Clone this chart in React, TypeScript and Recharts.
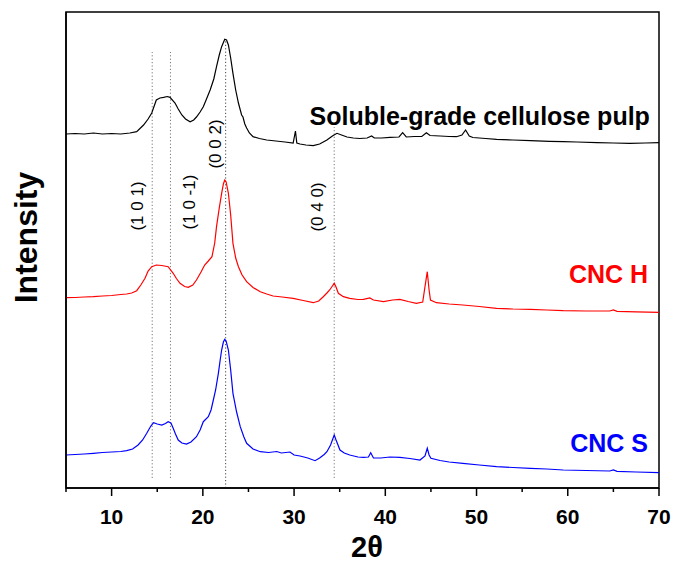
import React from "react";
import { LineChart, Line, XAxis, YAxis, ReferenceLine, ReferenceArea, ReferenceDot } from "recharts";

// 2θ positions and intensity (arbitrary units, offset stacked as in the figure)
const pulpX = [5, 6, 7, 8, 9, 10, 11, 12, 12.75, 13.5, 14.0, 14.4, 14.9, 15.3, 15.7, 16.1, 16.4, 16.95, 17.3, 17.7, 18.1, 18.6, 19.0, 19.3, 19.7, 20.05, 20.4, 20.8, 21.2, 21.5, 21.8, 22.06, 22.4, 22.6, 22.8, 23.05, 23.3, 23.6, 23.9, 24.25, 24.4, 24.6, 24.8, 25.1, 25.5, 26.2, 27, 28, 29, 29.9, 30.15, 30.3, 30.65, 31.3, 32.1, 32.8, 33.6, 34.2, 34.7, 35.2, 35.8, 36.5, 37.2, 38.0, 38.5, 38.8, 39.6, 40.5, 41.5, 41.9, 42.3, 43.2, 44.0, 44.5, 44.9, 46, 47, 47.8, 48.4, 48.8, 49.2, 49.6, 51, 52.2, 54, 55.9, 58, 59.5, 61, 63.2, 65, 66.8, 68.5, 70];
const pulpY = [354, 354.5, 354, 355, 354, 354.5, 354, 355, 356.3, 363, 369, 375, 388, 390, 390.7, 391.5, 390.7, 385, 379, 373, 369, 366.3, 368, 371, 376, 381.3, 389, 398, 409, 421.3, 433, 441.3, 448.7, 448, 443, 430, 414.7, 398, 385, 373, 371, 364, 360, 355, 351.3, 349.5, 348, 347, 346, 345, 357, 345, 344, 343, 342.3, 344, 348, 352, 354.7, 353, 351, 350, 349.5, 350, 352, 350, 350, 350.7, 351, 355.3, 351, 351.5, 351.5, 355.3, 352.5, 352, 351.5, 351.3, 353, 358, 352, 350.5, 349.5, 348.7, 348, 347.3, 346.7, 346.3, 346, 345.3, 345, 344.7, 345, 345.3];

const cncHX = [5, 6, 7, 8, 9, 10, 11, 11.65, 12.2, 12.75, 13.2, 13.66, 14.0, 14.4, 14.9, 15.5, 16.2, 16.75, 17.1, 17.5, 18.0, 18.4, 18.9, 19.3, 19.8, 20.2, 20.6, 21.0, 21.3, 21.5, 21.8, 22.06, 22.25, 22.4, 22.55, 22.8, 23.05, 23.3, 23.6, 23.9, 24.3, 24.8, 25.5, 26.3, 27.0, 27.7, 28.7, 29.9, 31.0, 32.1, 32.7, 33.2, 33.6, 33.9, 34.2, 34.4, 34.6, 34.85, 35.4, 36.1, 37.0, 37.6, 38.3, 38.7, 39.8, 40.8, 41.6, 42.5, 43.4, 44.1, 44.35, 44.6, 44.8, 44.95, 45.6, 47, 48.5, 50.3, 52.2, 54, 55.9, 57.7, 59.5, 62, 64.6, 65, 65.4, 67.5, 70];
const cncHY = [190.3, 190.5, 191, 191.3, 192, 192.5, 193.5, 194, 195, 197.3, 203, 209.7, 217, 221.3, 223, 222.5, 221.3, 214.7, 209.5, 204.7, 201.5, 200.7, 203, 208, 216, 223, 227, 231.3, 245, 261.3, 280, 294.7, 304, 308, 306, 294.7, 273, 244.7, 230, 221.3, 213, 206.3, 200.5, 196.3, 194, 192, 191, 189.7, 187.5, 185.3, 187, 191.3, 195, 198, 202, 204.7, 201, 194.7, 191.3, 189.7, 188.5, 188.7, 190, 188, 186.3, 188, 188.7, 186.5, 184.7, 186, 201.3, 216.3, 198, 188, 185.3, 184, 183, 181.5, 179.7, 179, 178.7, 178, 177.3, 177, 177, 178, 176.7, 176.2, 175.7];

const cncSX = [5, 6, 7, 8, 9, 10, 11, 11.65, 12.3, 12.9, 13.4, 13.85, 14.3, 14.6, 15.0, 15.5, 15.9, 16.2, 16.5, 16.75, 17.0, 17.3, 17.7, 18.2, 18.7, 19.3, 19.7, 20.05, 20.6, 20.9, 21.15, 21.4, 21.7, 21.9, 22.06, 22.25, 22.4, 22.55, 22.8, 23.05, 23.3, 23.7, 24.1, 24.5, 24.8, 25.5, 26.3, 27.2, 28.1, 28.6, 29.55, 30.0, 30.65, 31.5, 32.3, 32.8, 33.3, 33.6, 34.0, 34.4, 34.6, 35.03, 35.5, 36.1, 37.0, 37.6, 38.15, 38.4, 38.7, 39.5, 40.5, 41.6, 42.7, 43.8, 44.35, 44.6, 44.8, 45.0, 46, 47, 48.5, 50.3, 52.2, 54, 55.9, 57.7, 59.5, 62, 64.6, 65, 65.4, 67.5, 70];
const cncSY = [33, 33.5, 34, 34.7, 35.5, 36, 36.5, 37.3, 39, 43, 48, 54.7, 62, 65.3, 64, 63, 64.5, 66.3, 65, 59.7, 54, 48, 45, 44, 46, 51.3, 58, 66.3, 71.3, 78, 88, 98, 114.7, 128, 138, 146, 148.7, 147, 138, 118, 94.7, 76, 61.3, 51, 44.7, 39, 36.3, 35.5, 36.5, 35, 36, 33, 32, 30, 27.3, 30, 33.5, 36.3, 43, 53, 48, 38, 35, 33, 31, 30.7, 31, 35.3, 30, 30, 31, 30.7, 29.5, 28, 32, 39.7, 33, 29.7, 27.5, 26, 24.7, 23, 21.3, 20.5, 19.7, 19, 18, 17.5, 17, 18, 16.7, 16, 15.3];

const xTicks = [5, 10, 15, 20, 25, 30, 35, 40, 45, 50, 55, 60, 65, 70];

// reflection guide lines: 2θ, lower and upper intensity bound
const peakX = [14.45, 16.45, 22.5, 34.4];
const peakLow = [10, 10, 0, 10];
const peakHigh = [436, 436, 448, 361];
const peakColor = ["#777", "#777", "#444", "#777"];

// reflection labels (Miller indices)
const hklText = ["(1 0 1)", "(1 0 -1)", "(0 0 2)", "(0 4 0)"];
const hklX = [12.89, 18.59, 21.44, 32.62];
const hklY = [282, 286, 344, 281];

// curve names
const seriesName = ["Soluble-grade cellulose pulp", "CNC H", "CNC S"];
const seriesColor = ["#000000", "#ff0000", "#0000ff"];
const nameX = [69.0, 68.8, 68.8];
const nameY = [363, 205, 36];

const zip = (xs: number[], ys: number[]) => xs.map((x, i) => ({ x, h: ys[i] }));
const seriesData = [zip(pulpX, pulpY), zip(cncHX, cncHY), zip(cncSX, cncSY)];

const FONT = "'Liberation Sans', Arial, Helvetica, sans-serif";

const XTick = (props: any) => {
  const { x, y, payload } = props;
  const major = payload.value % 10 === 0;
  return (
    <g>
      <line x1={x} y1={y} x2={x} y2={y + (major ? 8 : 4)} stroke="#000" strokeWidth={1.5} />
      {major && (
        <text x={x} y={y + 36} textAnchor="middle" fontSize={21} fontWeight="bold" fontFamily={FONT} fill="#000">
          {payload.value}
        </text>
      )}
    </g>
  );
};

export default function App() {
  return (
    <div style={{ position: "absolute", left: 0, top: 0, width: 673, height: 564, background: "#fff" }}>
      <LineChart width={673} height={564} margin={{ top: 12, right: 14, left: 0, bottom: 0 }}>
        <XAxis
          type="number"
          dataKey="x"
          domain={[5, 70]}
          ticks={xTicks}
          allowDataOverflow
          height={76}
          tickSize={0}
          tickMargin={0}
          tick={<XTick />}
          axisLine={{ stroke: "#000", strokeWidth: 1.5 }}
          label={{
            content: (p: any) => {
              const vb = p.viewBox;
              return (
                <text x={vb.x + vb.width / 2 + 4.5} y={vb.y + 69} textAnchor="middle" fontSize={29} fontWeight="bold" fontFamily={FONT} fill="#000">
                  2θ
                </text>
              );
            },
          }}
        />
        <YAxis
          type="number"
          domain={[0, 476]}
          width={66}
          tick={false}
          tickLine={false}
          allowDataOverflow
          axisLine={{ stroke: "#000", strokeWidth: 1.5 }}
          label={{
            content: (p: any) => {
              const vb = p.viewBox;
              const cx = vb.x + 37;
              const cy = vb.y + 225.5;
              return (
                <text x={cx} y={cy} transform={`rotate(-90 ${cx} ${cy})`} textAnchor="middle" fontSize={32} fontWeight="bold" fontFamily={FONT} fill="#000">
                  Intensity
                </text>
              );
            },
          }}
        />
        <ReferenceArea x1={5} x2={70} y1={0} y2={476} fill="none" stroke="#000" strokeWidth={1.5} ifOverflow="visible" />
        {peakX.map((px, i) => (
          <ReferenceLine
            key={"pl" + i}
            segment={[{ x: px, y: peakLow[i] }, { x: px, y: peakHigh[i] }]}
            stroke={peakColor[i]}
            strokeWidth={1}
            strokeDasharray="1.2 2.2"
          />
        ))}
        {seriesData.map((d, i) => (
          <Line
            key={"s" + i}
            data={d}
            dataKey="h"
            type="linear"
            stroke={seriesColor[i]}
            strokeWidth={1.2}
            dot={false}
            isAnimationActive={false}
          />
        ))}
        {hklText.map((t, i) => (
          <ReferenceDot
            key={"hkl" + i}
            x={hklX[i]}
            y={hklY[i]}
            r={0}
            ifOverflow="visible"
            shape={(p: any) => (
              <text
                x={p.cx}
                y={p.cy}
                transform={`rotate(-90 ${p.cx} ${p.cy})`}
                textAnchor="middle"
                dominantBaseline="central"
                fontSize={17}
                fontFamily={FONT}
                fill="#000"
              >
                {t}
              </text>
            )}
          />
        ))}
        {seriesName.map((t, i) => (
          <ReferenceDot
            key={"nm" + i}
            x={nameX[i]}
            y={nameY[i]}
            r={0}
            ifOverflow="visible"
            shape={(p: any) => (
              <text x={p.cx} y={p.cy} textAnchor="end" fontSize={25} fontWeight="bold" fontFamily={FONT} fill={seriesColor[i]}>
                {t}
              </text>
            )}
          />
        ))}
      </LineChart>
    </div>
  );
}
